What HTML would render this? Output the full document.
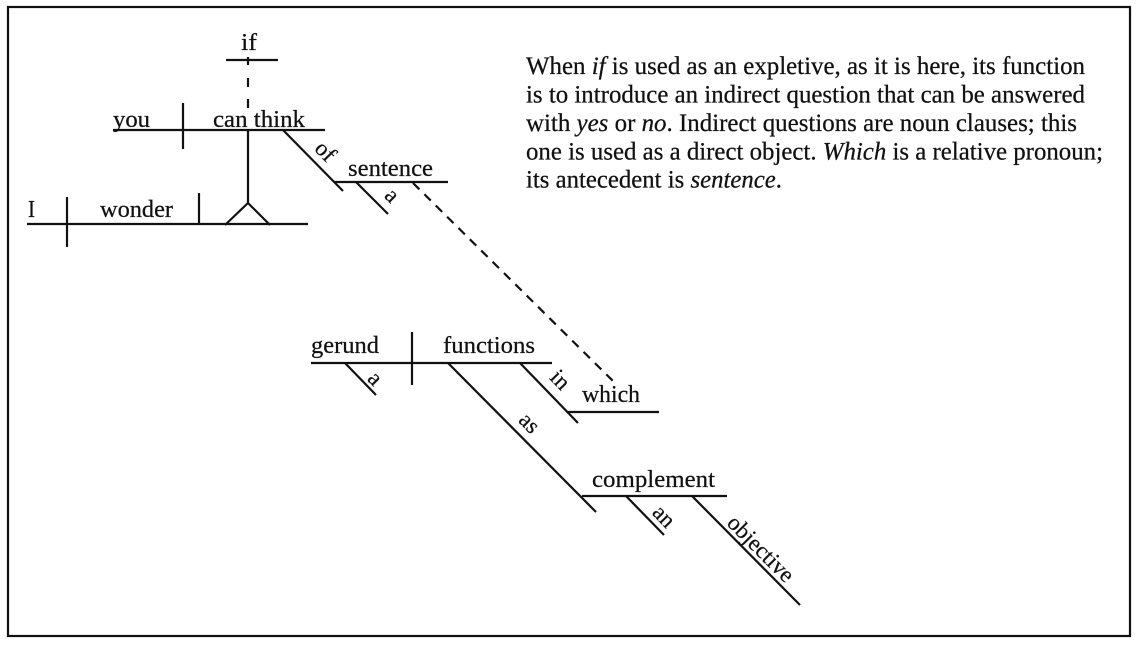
<!DOCTYPE html>
<html>
<head>
<meta charset="utf-8">
<style>
html,body{margin:0;padding:0;background:#fff;}
svg{display:block;}
text{font-family:"Liberation Serif","Times New Roman",serif;fill:#111;stroke:#111;stroke-width:0.25px;}
</style>
</head>
<body>
<svg width="1138" height="645" viewBox="0 0 1138 645" xmlns="http://www.w3.org/2000/svg">
<rect x="0" y="0" width="1138" height="645" fill="#fff"/>
<!-- frame -->
<rect x="8" y="7" width="1122" height="629" fill="none" stroke="#111" stroke-width="2.2"/>

<g stroke="#111" stroke-width="2.2" fill="none" stroke-linecap="butt">
  <!-- if -->
  <line x1="226" y1="60" x2="278" y2="60"/>
  <line x1="248" y1="57" x2="248" y2="65"/>
  <line x1="248" y1="78" x2="248" y2="87"/>
  <line x1="248" y1="99" x2="248" y2="108"/>
  <!-- you can think -->
  <line x1="113" y1="130" x2="325" y2="130"/>
  <line x1="183" y1="103" x2="183" y2="149"/>
  <line x1="248" y1="130" x2="248" y2="203"/>
  <polyline points="225,225 248,203 270,225"/>
  <!-- of -->
  <line x1="283" y1="130" x2="343" y2="191"/>
  <!-- sentence -->
  <line x1="334" y1="182" x2="448" y2="182"/>
  <line x1="356" y1="182" x2="388" y2="214"/>
  <!-- I wonder -->
  <line x1="27" y1="224" x2="308" y2="224"/>
  <line x1="67" y1="197" x2="67" y2="247"/>
  <line x1="199" y1="193" x2="199" y2="224"/>
  <!-- dashed to which -->
  <line x1="413" y1="183" x2="615" y2="383" stroke-dasharray="9 7"/>
  <!-- gerund functions -->
  <line x1="311" y1="363" x2="552" y2="363"/>
  <line x1="412" y1="332" x2="412" y2="385"/>
  <line x1="345" y1="363" x2="376" y2="395"/>
  <line x1="448" y1="363" x2="596" y2="512"/>
  <line x1="520" y1="363" x2="578" y2="423"/>
  <!-- which -->
  <line x1="568" y1="412" x2="659" y2="412"/>
  <!-- complement -->
  <line x1="582" y1="496" x2="727" y2="496"/>
  <line x1="626" y1="496" x2="664" y2="535"/>
  <line x1="692" y1="496" x2="800" y2="605"/>
</g>

<!-- horizontal labels -->
<g font-size="24">
  <text x="241" y="50" textLength="16" lengthAdjust="spacingAndGlyphs">if</text>
  <text x="113" y="127" textLength="37" lengthAdjust="spacingAndGlyphs">you</text>
  <text x="213" y="127" textLength="92" lengthAdjust="spacingAndGlyphs">can think</text>
  <text x="28" y="217" textLength="7" lengthAdjust="spacingAndGlyphs">I</text>
  <text x="100" y="217" textLength="73" lengthAdjust="spacingAndGlyphs">wonder</text>
  <text x="348" y="176" textLength="85" lengthAdjust="spacingAndGlyphs">sentence</text>
  <text x="311" y="353" textLength="68" lengthAdjust="spacingAndGlyphs">gerund</text>
  <text x="443" y="353" textLength="92" lengthAdjust="spacingAndGlyphs">functions</text>
  <text x="582" y="402" textLength="58" lengthAdjust="spacingAndGlyphs">which</text>
  <text x="592" y="487" textLength="123" lengthAdjust="spacingAndGlyphs">complement</text>
</g>

<!-- diagonal labels -->
<g font-size="23" text-anchor="middle">
  <text transform="translate(283,130) rotate(45.5)" x="45" y="-8">of</text>
  <text transform="translate(356,182) rotate(45)" x="35" y="-9">a</text>
  <text transform="translate(345,363) rotate(46)" x="32" y="-4">a</text>
  <text transform="translate(520,363) rotate(46)" x="40" y="-10">in</text>
  <text transform="translate(448,363) rotate(45)" x="100" y="-8">as</text>
  <text transform="translate(626,496) rotate(46)" x="41" y="-6">an</text>
  <text transform="translate(692,496) rotate(45)" x="86" y="-4">objective</text>
</g>

<!-- paragraph -->
<g font-size="25">
  <text x="526" y="74" textLength="559" lengthAdjust="spacingAndGlyphs">When <tspan font-style="italic">if</tspan> is used as an expletive, as it is here, its function</text>
  <text x="526" y="102.5" textLength="559" lengthAdjust="spacingAndGlyphs">is to introduce an indirect question that can be answered</text>
  <text x="526" y="131" textLength="551" lengthAdjust="spacingAndGlyphs">with <tspan font-style="italic">yes</tspan> or <tspan font-style="italic">no</tspan>. Indirect questions are noun clauses; this</text>
  <text x="526" y="159.5" textLength="577" lengthAdjust="spacingAndGlyphs">one is used as a direct object. <tspan font-style="italic">Which</tspan> is a relative pronoun;</text>
  <text x="526" y="187.5" textLength="256" lengthAdjust="spacingAndGlyphs">its antecedent is <tspan font-style="italic">sentence</tspan>.</text>
</g>
</svg>
</body>
</html>
